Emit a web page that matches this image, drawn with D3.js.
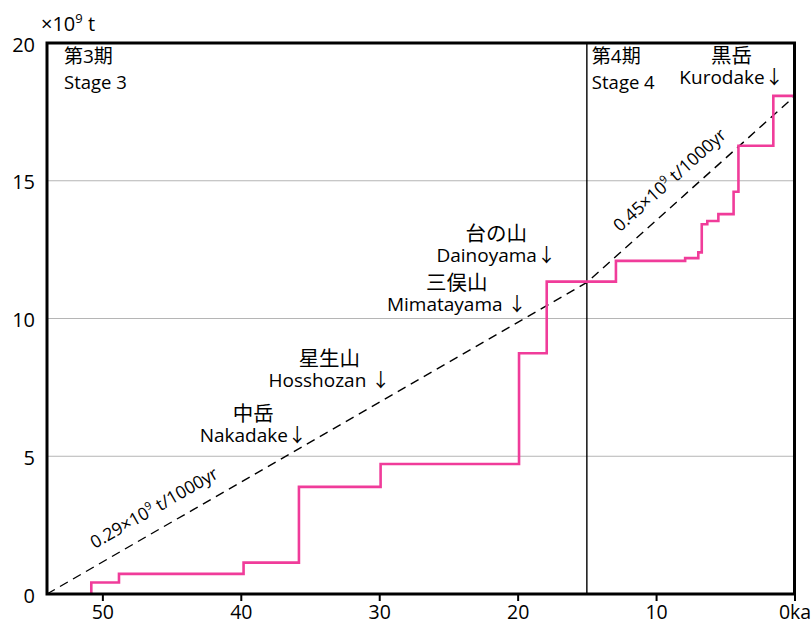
<!DOCTYPE html>
<html>
<head>
<meta charset="utf-8">
<script src="https://cdn.jsdelivr.net/npm/d3@7"></script>
<style>
  body { margin: 0; background: #fff; }
  svg text { font-family: "Open Sans", "Noto Sans CJK JP", sans-serif; fill: #000; }
</style>
</head>
<body>
<script>
  // cumulative erupted mass, step after each age (ka)
  var stepAge  = [50.8, 48.8, 39.8, 35.8, 29.9, 19.9, 17.9, 12.9, 7.9, 6.95, 6.7, 6.3, 5.5, 4.4, 4.05, 1.53, 0];
  var stepMass = [0.42, 0.73, 1.14, 3.89, 4.72, 8.74, 11.34, 12.09, 12.19, 12.4, 13.42, 13.54, 13.79, 14.6, 16.27, 18.08, 18.08];

  // average rate lines
  var rateAge  = [54, 15, 0];
  var rateMass = [0, 11.31, 18.06];
  var rateText = ['0.29', '0.45'];

  var xTicks = [50, 40, 30, 20, 10, 0];
  var yTicks = [0, 5, 10, 15, 20];
  var gridTicks = [5, 10, 15];

  var stageJp = ['第3期', '第4期'],
      stageEn = ['Stage 3', 'Stage 4'],
      stageStart = [54, 15];

  var volcanoJp = ['中岳', '星生山', '三俣山', '台の山', '黒岳'],
      volcanoEn = ['Nakadake↓', 'Hosshozan ↓', 'Mimatayama ↓', 'Dainoyama↓', 'Kurodake↓'];

  // label placement (data units)
  var volcanoAt = [[39.1, 5.52], [33.6, 7.51], [24.4, 10.27], [21.55, 12.05], [4.55, 18.51]],
      rateLabelAge = [45.5, 8.0],
      stageDx = [17, 5];

  var W = 812, H = 625;

  var svg = d3.select('body')
    .append('svg')
    .attr('width', W)
    .attr('height', H);

  var x = d3.scaleLinear().domain([54, 0]).range([47, 794.5]),
      y = d3.scaleLinear().domain([0, 20]).range([594, 43]);

  // gridlines
  svg.append('g')
    .selectAll('line')
    .data(gridTicks)
    .enter()
    .append('line')
    .attr('x1', x(54)).attr('x2', x(0))
    .attr('y1', function (d) { return y(d); })
    .attr('y2', function (d) { return y(d); })
    .attr('stroke', '#b5b5b5')
    .attr('stroke-width', 1);

  // stage boundary
  svg.append('line')
    .attr('x1', x(15)).attr('x2', x(15))
    .attr('y1', y(20)).attr('y2', y(0))
    .attr('stroke', '#000')
    .attr('stroke-width', 1.4);

  // dashed rate line
  var rateLine = d3.line()
    .x(function (d, i) { return x(rateAge[i]); })
    .y(function (d, i) { return y(rateMass[i]); });

  svg.append('path')
    .attr('d', rateLine(rateAge))
    .attr('fill', 'none')
    .attr('stroke', '#000')
    .attr('stroke-width', 1.4)
    .attr('stroke-dasharray', '9,6');

  // cumulative step curve
  var stepPts = [[stepAge[0], 0]].concat(stepAge.map(function (a, i) { return [a, stepMass[i]]; }));

  var stepLine = d3.line()
    .x(function (d) { return x(d[0]); })
    .y(function (d) { return y(d[1]); })
    .curve(d3.curveStepAfter);

  svg.append('path')
    .attr('d', stepLine(stepPts))
    .attr('fill', 'none')
    .attr('stroke', '#f03c9a')
    .attr('stroke-width', 2.6);

  // rate labels, rotated along the dashed line
  rateText.forEach(function (t, i) {
    var a = rateLabelAge[i],
        m = rateMass[i] + (rateMass[i + 1] - rateMass[i]) * (rateAge[i] - a) / (rateAge[i] - rateAge[i + 1]),
        ang = Math.atan2(y(rateMass[i + 1]) - y(rateMass[i]), x(rateAge[i + 1]) - x(rateAge[i])),
        off = 15,
        px = x(a) + off * Math.sin(ang),
        py = y(m) - off * Math.cos(ang);

    var txt = svg.append('text')
      .attr('transform', 'translate(' + px + ',' + py + ') rotate(' + (ang * 180 / Math.PI) + ')')
      .attr('text-anchor', 'middle')
      .style('font-size', '17.5px');
    txt.append('tspan').text(t + '×10');
    txt.append('tspan').attr('dy', -7).style('font-size', '11px').text('9');
    txt.append('tspan').attr('dy', 7).text(' t/1000yr');
  });

  // stage labels
  stageJp.forEach(function (s, i) {
    svg.append('text')
      .attr('x', x(stageStart[i]) + stageDx[i])
      .attr('y', 63)
      .style('font-size', '19px')
      .text(s);
    svg.append('text')
      .attr('x', x(stageStart[i]) + stageDx[i])
      .attr('y', 89)
      .style('font-size', '18.5px')
      .text(stageEn[i]);
  });

  // volcano labels
  volcanoEn.forEach(function (v, i) {
    var cx = x(volcanoAt[i][0]), by = y(volcanoAt[i][1]);
    svg.append('text')
      .attr('x', cx).attr('y', by)
      .attr('text-anchor', 'middle')
      .style('font-size', '19px')
      .text(v);
    svg.append('text')
      .attr('x', cx).attr('y', by - 21)
      .attr('text-anchor', 'middle')
      .style('font-size', '20.5px')
      .text(volcanoJp[i]);
  });

  // axes
  var xAxis = svg.append('g')
    .attr('transform', 'translate(0,' + y(0) + ')')
    .call(d3.axisBottom(x)
      .tickValues(xTicks)
      .tickSize(7)
      .tickPadding(4)
      .tickFormat(function (d) { return d === 0 ? '0ka' : d; }));
  xAxis.select('.domain').remove();
  xAxis.selectAll('.tick line').attr('stroke-width', 2);
  xAxis.selectAll('text').style('font-size', '19.5px').attr('font-family', null);

  var yAxis = svg.append('g')
    .attr('transform', 'translate(' + x(54) + ',0)')
    .call(d3.axisLeft(y)
      .tickValues(yTicks)
      .tickSize(0)
      .tickPadding(12));
  yAxis.select('.domain').remove();
  yAxis.selectAll('text').style('font-size', '20px').attr('font-family', null).attr('dy', '0.4em');

  // unit label
  var unit = svg.append('text')
    .attr('x', 41)
    .attr('y', 31)
    .style('font-size', '20px');
  unit.append('tspan').text('×10');
  unit.append('tspan').attr('dy', -8).style('font-size', '13px').text('9');
  unit.append('tspan').attr('dy', 8).text(' t');

  // frame
  svg.append('rect')
    .attr('x', x(54)).attr('y', y(20))
    .attr('width', x(0) - x(54))
    .attr('height', y(0) - y(20))
    .attr('fill', 'none')
    .attr('stroke', '#000')
    .attr('stroke-width', 3);
</script>
</body>
</html>
